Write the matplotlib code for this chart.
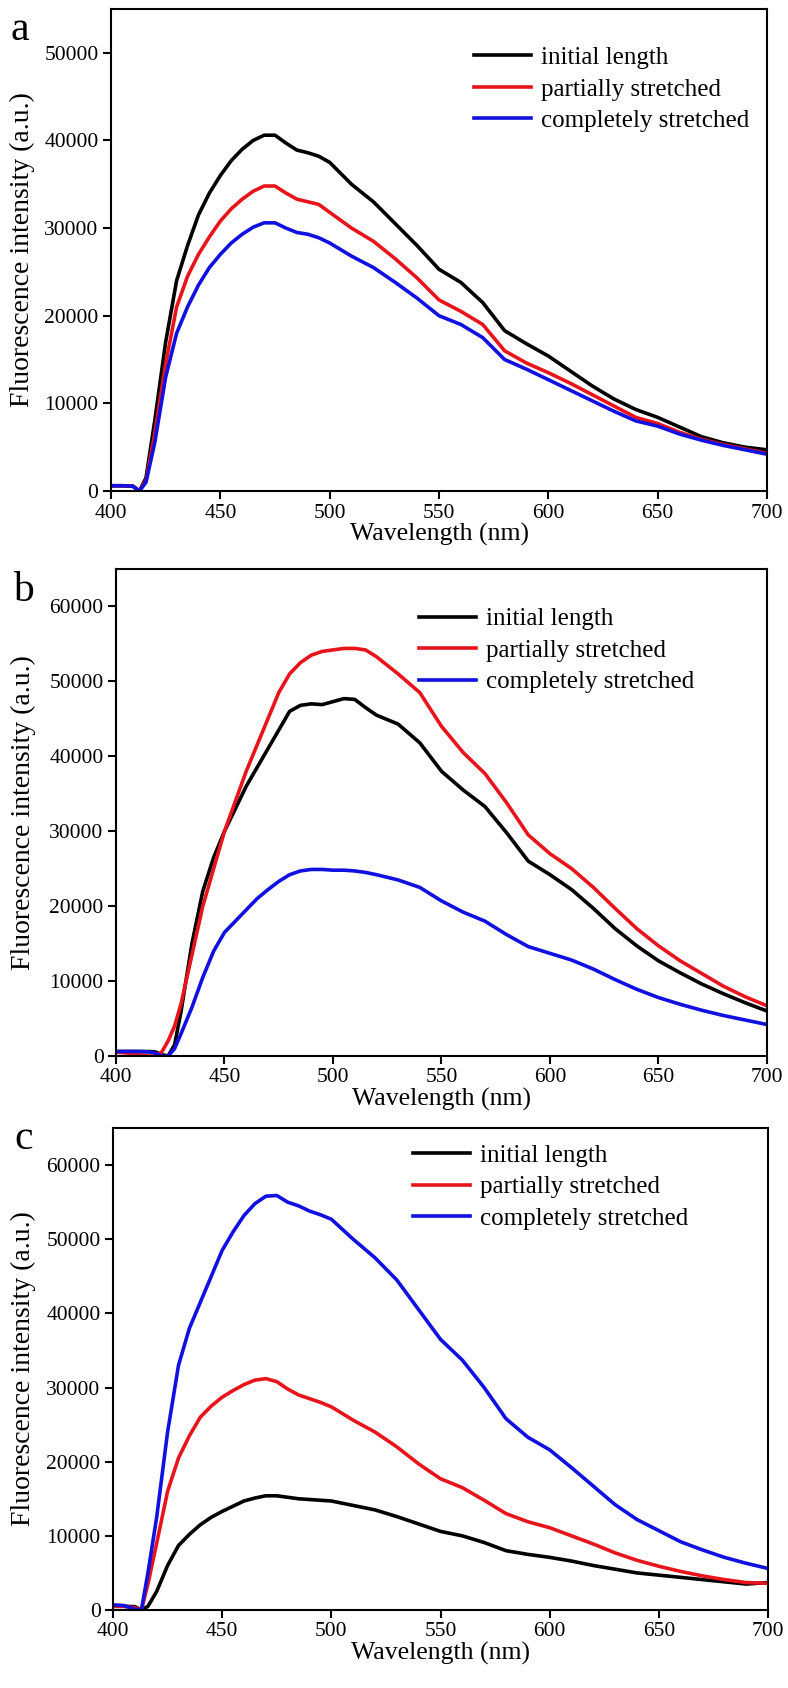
import matplotlib
matplotlib.use("Agg")
import matplotlib.pyplot as plt

plt.rcParams['font.family'] = ['Liberation Serif', 'DejaVu Serif']

labels = ["initial length", "partially stretched", "completely stretched"]
colors = ["#000000", "#e8141c", "#1010e0"]

# panel a
wl_a = [400, 405, 410, 413, 416, 420, 425, 430, 435, 440, 445, 450, 455, 460, 465, 470, 475,
        480, 485, 490, 495, 500, 510, 520, 530, 540, 550, 560, 570, 580, 590, 600, 610, 620,
        630, 640, 650, 660, 670, 680, 690, 700]
init_a = [600, 600, 550, 0, 1500, 8000, 17000, 24000, 28000, 31500, 34000, 36000, 37700, 39000,
          40000, 40600, 40600, 39700, 38900, 38600, 38200, 37500, 35000, 33000, 30500, 28000,
          25300, 23800, 21500, 18300, 16800, 15400, 13700, 12000, 10500, 9300, 8400, 7300, 6200,
          5500, 5000, 4700]
part_a = [600, 600, 550, 0, 1200, 6500, 14500, 21000, 24500, 27000, 29000, 30800, 32200, 33300,
          34200, 34800, 34800, 34000, 33300, 33000, 32700, 31800, 30000, 28500, 26500, 24300,
          21800, 20500, 19000, 16000, 14600, 13500, 12300, 11000, 9700, 8400, 7700, 6700, 5900,
          5300, 4800, 4300]
comp_a = [600, 600, 550, 0, 1000, 5500, 13000, 18000, 21000, 23500, 25500, 27000, 28300, 29300,
          30100, 30600, 30600, 30000, 29500, 29300, 28900, 28300, 26800, 25500, 23800, 22000,
          20000, 19000, 17500, 15000, 13900, 12700, 11500, 10300, 9100, 8000, 7400, 6500, 5800,
          5200, 4700, 4200]

# panel b
wl_b = [400, 405, 410, 415, 418, 421, 424, 427, 430, 435, 440, 445, 450, 455, 460, 465, 470,
        475, 480, 485, 490, 495, 500, 505, 510, 515, 520, 530, 540, 550, 560, 570, 580, 590,
        600, 610, 620, 630, 640, 650, 660, 670, 680, 690, 700]
init_b = [600, 600, 600, 600, 550, 200, 0, 1500, 6000, 15000, 22000, 26500, 30000, 33000, 36000,
          38500, 41000, 43500, 46000, 46800, 47000, 46900, 47300, 47700, 47600, 46500, 45500,
          44300, 41800, 38000, 35500, 33300, 29800, 26000, 24200, 22200, 19700, 17000, 14700,
          12700, 11100, 9600, 8300, 7100, 6000]
part_b = [500, 400, 200, 0, 0, 500, 2000, 4000, 7000, 13500, 20000, 25000, 30000, 34000, 38000,
          41500, 45000, 48500, 51000, 52500, 53500, 54000, 54200, 54400, 54400, 54200, 53300,
          51000, 48500, 44000, 40500, 37700, 33800, 29500, 27000, 25000, 22500, 19700, 17000,
          14700, 12700, 11000, 9300, 7900, 6700]
comp_b = [600, 600, 600, 550, 400, 0, 0, 1000, 3000, 6500, 10500, 14000, 16500, 18000, 19500,
          21000, 22200, 23300, 24200, 24700, 24900, 24900, 24800, 24800, 24700, 24500, 24200,
          23500, 22500, 20700, 19200, 18000, 16200, 14600, 13700, 12800, 11600, 10200, 8900,
          7800, 6900, 6100, 5400, 4800, 4200]

# panel c
wl_c = wl_a
init_c = [500, 500, 450, 0, 500, 2500, 6000, 8700, 10200, 11500, 12500, 13300, 14000, 14700,
          15100, 15400, 15400, 15200, 15000, 14900, 14800, 14700, 14100, 13500, 12600, 11600,
          10600, 10000, 9100, 8000, 7500, 7100, 6600, 6000, 5500, 5000, 4700, 4400, 4100, 3800,
          3500, 3700]
part_c = [500, 500, 300, 0, 3500, 9000, 16000, 20500, 23500, 26000, 27500, 28700, 29600, 30400,
          31000, 31200, 30800, 29800, 29000, 28500, 28000, 27400, 25600, 24000, 22000, 19700,
          17700, 16500, 14800, 13000, 11900, 11100, 10000, 8900, 7700, 6700, 5900, 5200, 4600,
          4100, 3700, 3600]
comp_c = [700, 600, 100, 0, 5000, 12500, 24000, 33000, 38000, 41500, 45000, 48500, 51000, 53200,
          54800, 55800, 55900, 55000, 54500, 53800, 53300, 52700, 50000, 47500, 44500, 40500,
          36500, 33700, 30000, 25800, 23300, 21600, 19200, 16700, 14200, 12200, 10700, 9200,
          8100, 7100, 6300, 5600]

W, H = 788, 1688
fig = plt.figure(figsize=(W / 100, H / 100), dpi=100)


def make_panel(rect_px, letter, letter_xy, wl, series, ymax, leg_xy, ylab_x):
    left, top, right, bottom = rect_px
    ax = fig.add_axes([left / W, 1 - bottom / H, (right - left) / W, (bottom - top) / H])
    for ys, lab, c in zip(series, labels, colors):
        ax.plot(wl, ys, color=c, lw=2.6, label=lab)
    ax.set_xlim(400, 700)
    ax.set_ylim(0, ymax)
    ax.set_xticks([400, 450, 500, 550, 600, 650, 700])
    ax.set_yticks(range(0, ymax, 10000))
    ax.tick_params(direction='out', length=6, width=1.5, labelsize=15.5,
                   top=False, right=False, pad=3)
    for sp in ax.spines.values():
        sp.set_linewidth(1.5)
    ax.set_xlabel("Wavelength (nm)", fontsize=18.5, labelpad=0)
    ax.set_ylabel("Fluorescence intensity (a.u.)", fontsize=20)
    ax.yaxis.set_label_coords((ylab_x - left) / (right - left), 0.5)
    ax.legend(loc='upper left', bbox_to_anchor=leg_xy, frameon=False, fontsize=18,
              handlelength=2.3, handletextpad=0.4, labelspacing=0.36, borderpad=0,
              borderaxespad=0)
    fig.text(letter_xy[0] / W, 1 - letter_xy[1] / H, letter, fontsize=30,
             ha='left', va='baseline')
    return ax


make_panel((111, 9, 767, 491), "a", (11, 40), wl_a, [init_a, part_a, comp_a], 55000,
           (0.553, 0.922), 35)
make_panel((116, 569, 767, 1056), "b", (13, 601), wl_b, [init_b, part_b, comp_b], 65000,
           (0.465, 0.920), 36)
make_panel((113, 1128, 768, 1610), "c", (14, 1149), wl_c, [init_c, part_c, comp_c], 65000,
           (0.458, 0.966), 36)

fig.savefig("out.png", dpi=100)
